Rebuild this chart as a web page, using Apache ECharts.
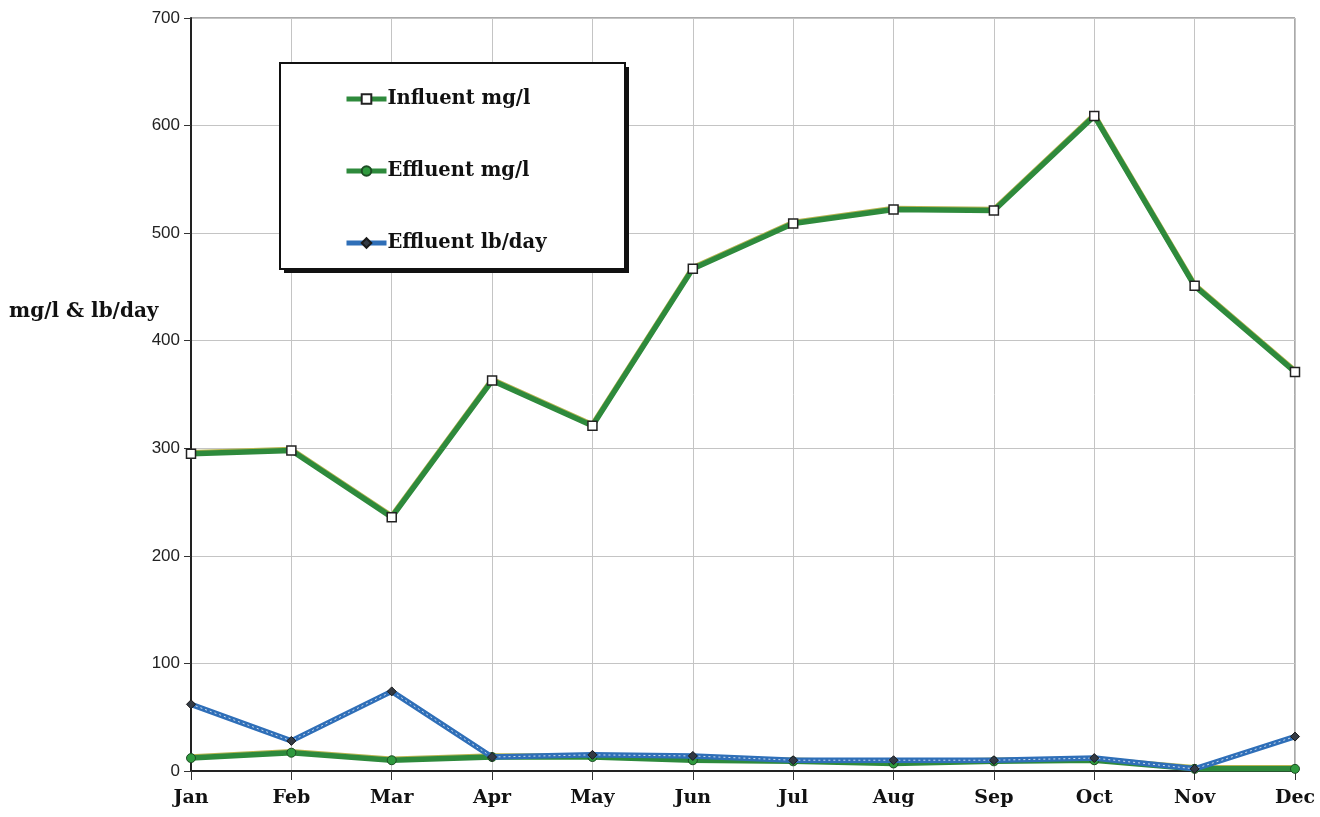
<!DOCTYPE html>
<html>
<head>
<meta charset="utf-8">
<script src="https://cdn.jsdelivr.net/npm/echarts@6/dist/echarts.min.js"></script>
<style>
  html, body { margin: 0; padding: 0; background: #fff; }
  #chart { width: 1320px; height: 817px; }
</style>
</head>
<body>
<div id="chart"></div>
<script>
// Monthly concentrations and loads
const months = ['Jan', 'Feb', 'Mar', 'Apr', 'May', 'Jun', 'Jul', 'Aug', 'Sep', 'Oct', 'Nov', 'Dec'];
const influentMgL = [295, 298, 236, 363, 321, 467, 509, 522, 521, 609, 451, 371];
const effluentMgL = [12, 17, 10, 13, 13, 10, 9, 7, 9, 10, 2, 2];
const effluentLbDay = [62, 28, 74, 13, 15, 14, 10, 10, 10, 12, 2, 32];
const yTicks = { min: 0, max: 700, step: 100 };

const serifBold = { fontFamily: 'DejaVu Serif', fontWeight: 'bold', color: '#111' };

const chart = echarts.init(document.getElementById('chart'));
chart.setOption({
  animation: false,
  backgroundColor: '#fff',
  grid: {
    left: 191, right: 25, top: 18, bottom: 46,
    show: true, borderColor: '#555', borderWidth: 1
  },
  legend: {
    data: ['Influent mg/l', 'Effluent mg/l', 'Effluent lb/day'],
    orient: 'vertical',
    left: 344, top: 89,
    padding: 0,
    itemGap: 52,
    itemWidth: 40,
    itemHeight: 12,
    lineStyle: { width: 5 },
    textStyle: Object.assign({ fontSize: 19.5, padding: [0, 0, 0, -4] }, serifBold),
    z: 6
  },
  graphic: [
    {
      // solid drop shadow behind the legend panel
      type: 'rect',
      left: 284, top: 67, z: 5,
      shape: { width: 345, height: 206 },
      style: { fill: '#111' }
    },
    {
      // framed legend panel
      type: 'rect',
      left: 279, top: 62, z: 5,
      shape: { width: 345, height: 206 },
      style: { fill: '#fff', stroke: '#111', lineWidth: 2 }
    },
    {
      type: 'text',
      left: 9, top: 302,
      style: { text: 'mg/l & lb/day', fontSize: 20, fill: '#111',
        fontFamily: 'DejaVu Serif', fontWeight: 'bold' }
    }
  ],
  xAxis: {
    type: 'category',
    data: months,
    boundaryGap: false,
    axisLine: { lineStyle: { color: '#222', width: 2 } },
    axisTick: { show: true, length: 9, lineStyle: { color: '#333' } },
    splitLine: { show: true, lineStyle: { color: '#c4c4c4', width: 1 } },
    axisLabel: Object.assign({ fontSize: 19, margin: 18 }, serifBold)
  },
  yAxis: {
    type: 'value',
    min: yTicks.min, max: yTicks.max, interval: yTicks.step,
    axisLine: { show: true, lineStyle: { color: '#222', width: 2 } },
    axisTick: { show: true, length: 7, lineStyle: { color: '#333' } },
    splitLine: { lineStyle: { color: '#c4c4c4', width: 1 } },
    axisLabel: { fontFamily: 'Liberation Sans', fontSize: 17, color: '#222', margin: 11 }
  },
  series: [
    {
      name: 'Influent mg/l',
      type: 'line',
      data: influentMgL,
      symbol: 'rect',
      symbolSize: 9,
      itemStyle: { color: '#fff', borderColor: '#222', borderWidth: 1.5 },
      lineStyle: { color: '#2e8a3c', width: 5.5, shadowColor: '#b7b450', shadowBlur: 0, shadowOffsetY: -1 },
      z: 3
    },
    {
      name: 'Effluent mg/l',
      type: 'line',
      data: effluentMgL,
      symbol: 'circle',
      symbolSize: 9,
      itemStyle: { color: '#2f9a3e', borderColor: '#1d4d24', borderWidth: 1 },
      lineStyle: { color: '#2e8a3c', width: 5.5, shadowColor: '#b7b450', shadowBlur: 0, shadowOffsetY: -1 },
      z: 2
    },
    {
      name: 'Effluent lb/day',
      type: 'line',
      data: effluentLbDay,
      symbol: 'diamond',
      symbolSize: 9,
      itemStyle: { color: '#333a44', borderColor: '#1a1a1a', borderWidth: 1 },
      lineStyle: { color: '#2f6fb8', width: 5.5 },
      z: 4
    },
    {
      // white dotted centre stroke of the lb/day line
      name: 'lb/day centre',
      type: 'line',
      data: effluentLbDay,
      symbol: 'none',
      silent: true,
      lineStyle: { color: 'rgba(255,255,255,0.75)', width: 1, type: [2, 3] },
      z: 4
    }
  ]
});
</script>
</body>
</html>
